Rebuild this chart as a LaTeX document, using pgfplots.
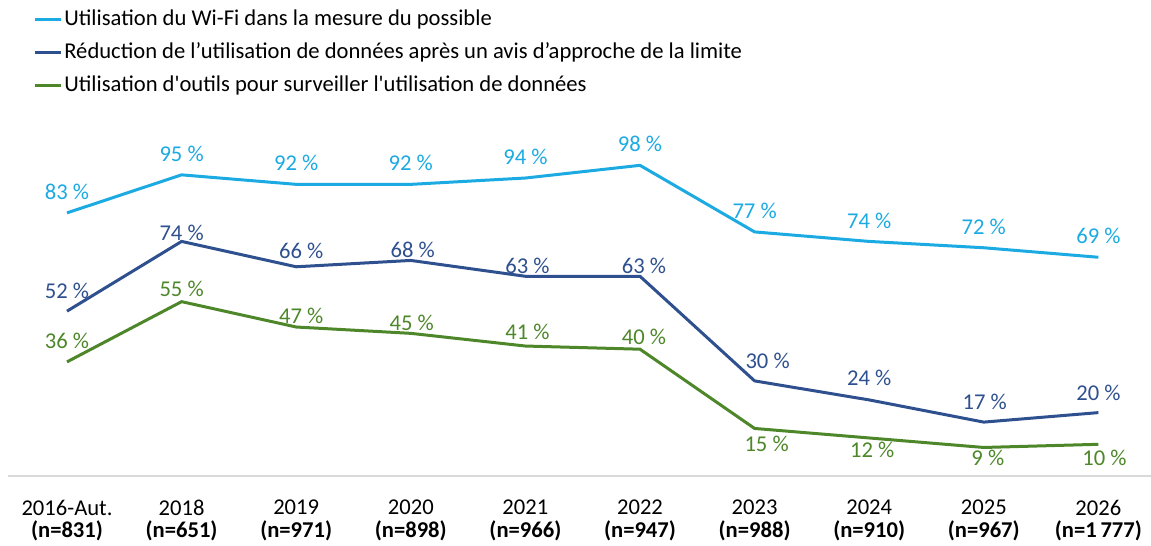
\documentclass[border=0pt]{standalone}
\usepackage{pgfplots}
\pgfplotsset{compat=1.18}
\usepackage{pgfplotstable}
\usepackage{fontspec}
\setmainfont{Carlito}
\newfontfamily\nolig{Carlito}[Ligatures=TeXOff]

\definecolor{cC}{RGB}{27,170,226}
\definecolor{nC}{RGB}{47,80,143}
\definecolor{gC}{RGB}{78,135,42}
\definecolor{axC}{RGB}{217,217,217}

% x = category index, y = value, dx/dy = label offset (px, 1px = 0.5pt)
\pgfplotstableread{
x y dx dy
0 83 0 21
1 95 0 21
2 92 0 21
3 92 0 21
4 94 0 21
5 98 0 21
6 77 0 21
7 74 0 21
8 72 0 21
9 69 0 21
}\cyanT

\pgfplotstableread{
x y dx dy
0 52 0 20
1 74 0 9
2 66 5 16
3 68 2 11
4 63 2 10
5 63 4 10
6 30 13 20
7 24 0 22
8 17 1 20
9 20 0 20
}\navyT

\pgfplotstableread{
x y dx dy
0 36 0 21
1 55 0 13
2 47 5 11
3 45 1 10
4 41 2 14
5 40 4 12
6 15 12 -15
7 12 3 -12
8 9 4 -10
9 10 6 -14
}\greenT

\begin{document}
\begin{tikzpicture}
\begin{axis}[
  x=57.3pt, y=1.585pt,
  xmin=-0.515, xmax=9.46,
  ymin=0, ymax=100,
  axis x line=bottom,
  axis y line=none,
  x axis line style={draw=axC, line width=0.75pt, -},
  xtick={0,...,9},
  major tick length=0pt,
  xticklabels={
    {2016-Aut.\\\textbf{(n=831)}},
    {2018\\\textbf{(n=651)}},
    {2019\\\textbf{(n=971)}},
    {2020\\\textbf{(n=898)}},
    {2021\\\textbf{(n=966)}},
    {2022\\\textbf{(n=947)}},
    {2023\\\textbf{(n=988)}},
    {2024\\\textbf{(n=910)}},
    {2025\\\textbf{(n=967)}},
    {2026\\\textbf{(n=1\,777)}}},
  xticklabel style={font=\fontsize{11.3}{11.2}\selectfont, align=center, text=black, yshift=-8.5pt},
  clip=false,
  legend style={draw=none, fill=none, at={(axis cs:-0.297,148.1)}, anchor=north west,
    inner sep=0pt, row sep=3.5pt, font=\fontsize{11.3}{12}\selectfont,
    nodes={text height=8.5pt, text depth=2.5pt, inner sep=1pt}},
  legend cell align=left,
  legend image code/.code={\draw[#1, line width=1.5pt] (0pt,0pt) -- (13pt,0pt);},
  nodes near coords={\pgfmathprintnumber[assume math mode=true]{\pgfplotspointmeta}~\%},
  point meta=y,
  visualization depends on={\thisrow{dx} \as \labdx},
  visualization depends on={\thisrow{dy} \as \labdy},
  every node near coord/.append style={anchor=center, font=\fontsize{11.3}{12}\selectfont,
    xshift={\labdx*0.5pt}, yshift={\labdy*0.5pt}},
]
\addplot[cC, line width=1.5pt, mark=none, every node near coord/.append style={text=cC}] table[x=x,y=y] {\cyanT};
\addlegendentry{Utilisation du Wi-Fi dans la mesure du possible}
\addplot[nC, line width=1.5pt, mark=none, every node near coord/.append style={text=nC}] table[x=x,y=y] {\navyT};
\addlegendentry{Réduction de l’utilisation de données après un avis d’approche de la limite}
\addplot[gC, line width=1.5pt, mark=none, every node near coord/.append style={text=gC}] table[x=x,y=y] {\greenT};
\addlegendentry{Utilisation d{\nolig'}outils pour surveiller l{\nolig'}utilisation de données}
\coordinate (BBL) at (axis cs:-0.5846,-22.08);
\coordinate (BTR) at (axis cs:9.459,150.16);
\end{axis}
\pgfresetboundingbox
\path[use as bounding box] (BBL) rectangle (BTR);
\end{tikzpicture}
\end{document}
